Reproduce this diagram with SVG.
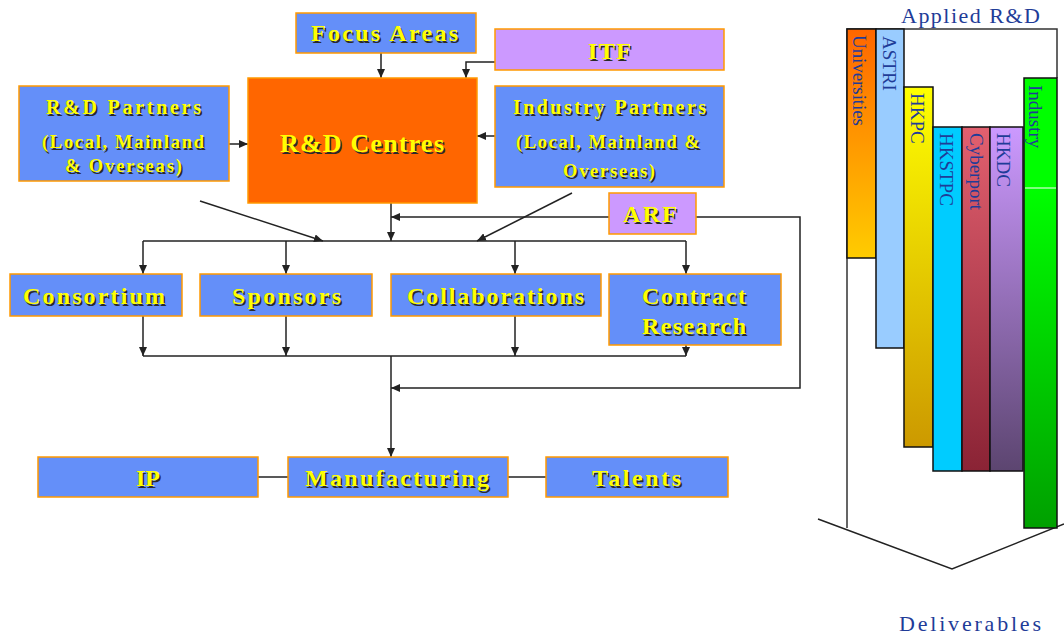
<svg xmlns="http://www.w3.org/2000/svg" width="1064" height="639" viewBox="0 0 1064 639">
<style>
.box{fill:#648FF9;stroke:#FF9900;stroke-width:1.5}
.rd{fill:#FF6600;stroke:#FF9900;stroke-width:1.5}
.lil{fill:#CC99FF;stroke:#FF9900;stroke-width:1.5}
.t{font-family:"Liberation Serif","Times New Roman",serif;font-weight:bold;fill:#FFFF00}
.s{font-family:"Liberation Serif","Times New Roman",serif;font-weight:bold;fill:#2A2A2A}
.c{fill:none;stroke:#222222;stroke-width:1.5}
.bar{stroke:#111111;stroke-width:1.5}
.v{font-family:"Liberation Serif","Times New Roman",serif;font-size:19px;fill:#1F3C98}
.lab{font-family:"Liberation Serif","Times New Roman",serif;font-size:22px;fill:#1F3C98}
</style>
<defs>
<marker id="ah" markerUnits="userSpaceOnUse" markerWidth="10" markerHeight="8" refX="9" refY="4" orient="auto">
<path d="M0,0 L9,4 L0,8 Z" fill="#222222"/>
</marker>
<linearGradient id="gU" x1="0" y1="0" x2="0" y2="1"><stop offset="0" stop-color="#FF6600"/><stop offset="1" stop-color="#FFCC00"/></linearGradient>
<linearGradient id="gP" x1="0" y1="0" x2="0" y2="1"><stop offset="0" stop-color="#FFFF00"/><stop offset="1" stop-color="#CC9900"/></linearGradient>
<linearGradient id="gC" x1="0" y1="0" x2="0" y2="1"><stop offset="0" stop-color="#E2606F"/><stop offset="1" stop-color="#8A2335"/></linearGradient>
<linearGradient id="gD" x1="0" y1="0" x2="0" y2="1"><stop offset="0" stop-color="#CC99FF"/><stop offset="1" stop-color="#5C4570"/></linearGradient>
<linearGradient id="gI" x1="0" y1="0" x2="0" y2="1"><stop offset="0.24" stop-color="#00FF00"/><stop offset="1" stop-color="#00A000"/></linearGradient>
</defs>

<g id="connectors">
<path class="c" d="M381,53 V78" marker-end="url(#ah)"/>
<path class="c" d="M495,62 H466 V78" marker-end="url(#ah)"/>
<path class="c" d="M229,144 H248" marker-end="url(#ah)"/>
<path class="c" d="M495,136 H477" marker-end="url(#ah)"/>
<path class="c" d="M391,203 V241" marker-end="url(#ah)"/>
<path class="c" d="M609,217 H391" marker-end="url(#ah)"/>
<path class="c" d="M696,217 H800 V388 H391" marker-end="url(#ah)"/>
<path class="c" d="M200,201 L323,241" marker-end="url(#ah)"/>
<path class="c" d="M572,193 L477,241" marker-end="url(#ah)"/>
<path class="c" d="M143,241 H686"/>
<path class="c" d="M143,241 V274" marker-end="url(#ah)"/>
<path class="c" d="M286,241 V274" marker-end="url(#ah)"/>
<path class="c" d="M515,241 V274" marker-end="url(#ah)"/>
<path class="c" d="M686,241 V274" marker-end="url(#ah)"/>
<path class="c" d="M143,316 V356" marker-end="url(#ah)"/>
<path class="c" d="M286,316 V356" marker-end="url(#ah)"/>
<path class="c" d="M515,316 V356" marker-end="url(#ah)"/>
<path class="c" d="M686,345 V356" marker-end="url(#ah)"/>
<path class="c" d="M143,356 H686"/>
<path class="c" d="M391,356 V457" marker-end="url(#ah)"/>
<path class="c" d="M258,477 H288"/>
<path class="c" d="M508,477 H546"/>
</g>

<g id="focus-areas">
<rect class="box" x="296" y="13" width="180" height="40"/>
<text class="s" x="312.5" y="42.5" font-size="24" textLength="147" lengthAdjust="spacing">Focus Areas</text>
<text class="t" x="311" y="41" font-size="24" textLength="147" lengthAdjust="spacing">Focus Areas</text>
</g>
<g id="itf">
<rect class="lil" x="495" y="29" width="229" height="41"/>
<text class="s" x="589.5" y="60.5" font-size="24" textLength="43" lengthAdjust="spacing">ITF</text>
<text class="t" x="588" y="59" font-size="24" textLength="43" lengthAdjust="spacing">ITF</text>
</g>
<g id="rd-partners">
<rect class="box" x="19" y="86" width="210" height="95"/>
<text class="s" x="47.5" y="115.5" font-size="20" textLength="155" lengthAdjust="spacing">R&amp;D Partners</text>
<text class="t" x="46" y="114" font-size="20" textLength="155" lengthAdjust="spacing">R&amp;D Partners</text>
<text class="s" x="43.5" y="149.5" font-size="18.5" textLength="162" lengthAdjust="spacing">(Local, Mainland</text>
<text class="t" x="42" y="148" font-size="18.5" textLength="162" lengthAdjust="spacing">(Local, Mainland</text>
<text class="s" x="66.5" y="173.5" font-size="18.5" textLength="117" lengthAdjust="spacing">&amp; Overseas)</text>
<text class="t" x="65" y="172" font-size="18.5" textLength="117" lengthAdjust="spacing">&amp; Overseas)</text>
</g>
<g id="rd-centres">
<rect class="rd" x="248" y="78" width="229" height="125"/>
<text class="s" x="281.5" y="153.5" font-size="26" textLength="164" lengthAdjust="spacing">R&amp;D Centres</text>
<text class="t" x="280" y="152" font-size="26" textLength="164" lengthAdjust="spacing">R&amp;D Centres</text>
</g>
<g id="industry-partners">
<rect class="box" x="495" y="86" width="229" height="101"/>
<text class="s" x="514.5" y="115.5" font-size="20" textLength="193" lengthAdjust="spacing">Industry Partners</text>
<text class="t" x="513" y="114" font-size="20" textLength="193" lengthAdjust="spacing">Industry Partners</text>
<text class="s" x="517.5" y="149.5" font-size="18.5" textLength="184" lengthAdjust="spacing">(Local, Mainland &amp;</text>
<text class="t" x="516" y="148" font-size="18.5" textLength="184" lengthAdjust="spacing">(Local, Mainland &amp;</text>
<text class="s" x="564.5" y="178.5" font-size="18.5" textLength="92" lengthAdjust="spacing">Overseas)</text>
<text class="t" x="563" y="177" font-size="18.5" textLength="92" lengthAdjust="spacing">Overseas)</text>
</g>
<g id="arf">
<rect class="lil" x="609" y="193" width="87" height="41"/>
<text class="s" x="624.5" y="223.5" font-size="24" textLength="54" lengthAdjust="spacing">ARF</text>
<text class="t" x="623" y="222" font-size="24" textLength="54" lengthAdjust="spacing">ARF</text>
</g>
<g id="consortium">
<rect class="box" x="10" y="274" width="172" height="42"/>
<text class="s" x="24.5" y="305.5" font-size="24" textLength="142" lengthAdjust="spacing">Consortium</text>
<text class="t" x="23" y="304" font-size="24" textLength="142" lengthAdjust="spacing">Consortium</text>
</g>
<g id="sponsors">
<rect class="box" x="200" y="274" width="172" height="42"/>
<text class="s" x="233.5" y="305.5" font-size="24" textLength="109" lengthAdjust="spacing">Sponsors</text>
<text class="t" x="232" y="304" font-size="24" textLength="109" lengthAdjust="spacing">Sponsors</text>
</g>
<g id="collaborations">
<rect class="box" x="391" y="274" width="210" height="42"/>
<text class="s" x="408.5" y="305.5" font-size="24" textLength="177" lengthAdjust="spacing">Collaborations</text>
<text class="t" x="407" y="304" font-size="24" textLength="177" lengthAdjust="spacing">Collaborations</text>
</g>
<g id="contract-research">
<rect class="box" x="609" y="274" width="172" height="71"/>
<text class="s" x="643.5" y="305.5" font-size="24" textLength="104" lengthAdjust="spacing">Contract</text>
<text class="t" x="642" y="304" font-size="24" textLength="104" lengthAdjust="spacing">Contract</text>
<text class="s" x="643.5" y="335.5" font-size="24" textLength="104" lengthAdjust="spacing">Research</text>
<text class="t" x="642" y="334" font-size="24" textLength="104" lengthAdjust="spacing">Research</text>
</g>
<g id="ip">
<rect class="box" x="38" y="457" width="220" height="40"/>
<text class="s" x="137.5" y="487.5" font-size="24" textLength="24" lengthAdjust="spacing">IP</text>
<text class="t" x="136" y="486" font-size="24" textLength="24" lengthAdjust="spacing">IP</text>
</g>
<g id="manufacturing">
<rect class="box" x="288" y="457" width="220" height="40"/>
<text class="s" x="306.5" y="487.5" font-size="24" textLength="184" lengthAdjust="spacing">Manufacturing</text>
<text class="t" x="305" y="486" font-size="24" textLength="184" lengthAdjust="spacing">Manufacturing</text>
</g>
<g id="talents">
<rect class="box" x="546" y="457" width="182" height="40"/>
<text class="s" x="593.5" y="487.5" font-size="24" textLength="89" lengthAdjust="spacing">Talents</text>
<text class="t" x="592" y="486" font-size="24" textLength="89" lengthAdjust="spacing">Talents</text>
</g>

<g id="applied-rd">
<text class="lab" x="901" y="23" textLength="139" lengthAdjust="spacing">Applied R&amp;D</text>
<path d="M847,528 V29 H1057 V78" fill="none" stroke="#333333" stroke-width="1.5"/>
<path d="M818,519 L952,569 L1064,524" fill="none" stroke="#222222" stroke-width="1.5"/>
</g>
<g id="universities">
<rect class="bar" x="847" y="29" width="29" height="229" fill="url(#gU)"/>
<text class="v" transform="translate(853,35) rotate(90)" textLength="91" lengthAdjust="spacing">Universities</text>
</g>
<g id="astri">
<rect class="bar" x="876" y="29" width="28" height="319" fill="#99CCFF"/>
<text class="v" transform="translate(883,36) rotate(90)">ASTRI</text>
</g>
<g id="hkpc">
<rect class="bar" x="904" y="87" width="29" height="360" fill="url(#gP)"/>
<text class="v" transform="translate(911,93) rotate(90)">HKPC</text>
</g>
<g id="hkstpc">
<rect class="bar" x="933" y="127" width="29" height="344" fill="#00CCFF"/>
<text class="v" transform="translate(940,133) rotate(90)">HKSTPC</text>
</g>
<g id="cyberport">
<rect class="bar" x="962" y="127" width="28" height="344" fill="url(#gC)"/>
<text class="v" transform="translate(970,133) rotate(90)">Cyberport</text>
</g>
<g id="hkdc">
<rect class="bar" x="990" y="127" width="33" height="344" fill="url(#gD)"/>
<text class="v" transform="translate(997,133) rotate(90)">HKDC</text>
</g>
<g id="industry">
<rect class="bar" x="1024" y="78" width="33" height="450" fill="url(#gI)"/>
<line x1="1025" y1="188" x2="1056" y2="188" stroke="#FFFFFF" stroke-width="1"/>
<text class="v" transform="translate(1029,85) rotate(90)">Industry</text>
</g>
<g id="deliverables">
<text class="lab" x="899" y="631" textLength="142" lengthAdjust="spacing">Deliverables</text>
</g>
</svg>
